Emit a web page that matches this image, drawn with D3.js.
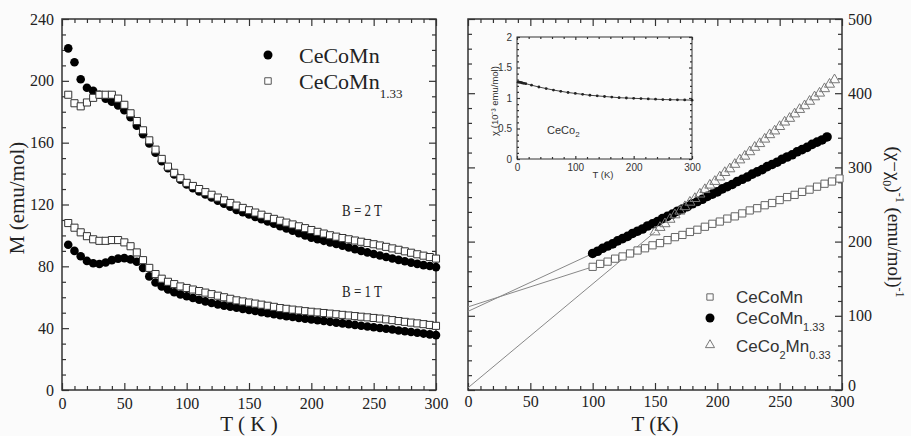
<!DOCTYPE html>
<html>
<head>
  <script src="https://d3js.org/d3.v7.min.js"></script>
  <style>
    body { margin: 0; background: #fbfbfb; }
    .tick line { stroke: #333; stroke-width: 1.2; }
    .serif text { font-family: "Liberation Serif", serif; fill: #222; }
    .sans text { font-family: "Liberation Sans", Arial, sans-serif; fill: #333; }
  </style>
</head>
<body>
<script>
  // ---- left panel: M(T) at B = 1 T and 2 T ----
  const tempLeft = [5,10,15,20,25,30,35,40,45,50,55,60,65,70,75,80,85,90,95,100,
    105,110,115,120,125,130,135,140,145,150,155,160,165,170,175,180,185,190,195,200,
    205,210,215,220,225,230,235,240,245,250,255,260,265,270,275,280,285,290,295,300]
  const m2T_CeCoMn = [221,212,201,195.5,193.5,191,188.5,186.5,184,181,176.5,171,165.5,159.5,153.5,148,143.5,139.5,136,133,
    130.5,128.5,126.5,124.5,122.5,120.5,118.5,116.5,115,113.5,112,110.5,109,107.5,106,104.5,103,101.5,100,98.5,
    97.5,96.5,95.5,94.5,93.3,92.2,91.1,90,89,88,87,86,85.1,84.2,83.3,82.4,81.6,80.8,80.2,79.5]
  const m2T_CeCoMn133 = [191,185.5,183.5,186,189,191,191,191,188.5,184.5,179,174,168,161.5,155.5,149.5,144.5,140.5,137,134,
    132,130,128,126.3,124.5,122.7,121,119.3,117.8,116.3,114.8,113.4,112,110.7,109.5,108.3,107.1,105.9,104.7,103.5,
    102.3,101.2,100.1,99.2,98.3,97.5,96.7,95.9,95.1,94.3,93.5,92.6,91.6,90.7,89.7,88.8,87.8,86.9,86,85]
  const m1T_CeCoMn = [94,90,86.5,83.5,82,81.5,82.5,84,85,85.3,84.5,83,79,73.5,69.5,67,65,63.2,61.8,60.6,
    59.5,58.4,57.3,56.3,55.4,54.6,53.9,53.2,52.5,51.8,51.1,50.4,49.7,49,48.4,47.8,47.2,46.6,46.1,45.6,
    45.1,44.6,44.1,43.6,43.1,42.6,42.1,41.6,41.1,40.6,40.1,39.6,39.1,38.5,38,37.5,37,36.5,36,35.5]
  const m1T_CeCoMn133 = [108,105,102,99.5,97.5,96.5,96.5,97,97,95.5,93,89,84,79,75,72,70,68.5,67,66,
    65,64,63,62,61,60,59,58,57.3,56.6,55.9,55.2,54.5,53.8,53,52.5,52,51.5,51,50.6,
    50.2,49.8,49.4,49,48.6,48.2,47.8,47.4,47,46.6,46.2,45.7,45.2,44.6,44.1,43.6,43.1,42.6,42.1,41.5]

  // ---- right panel: inverse susceptibility ----
  const tempSq = [100,106,112,118,124,130,136,142,148,154,160,166,172,178,184,190,196,
    202,208,214,220,226,232,238,244,250,256,262,268,274,280,286,292,298]
  const invCeCoMn = [166,170,173,177,180,184,188,191,195,198,202,206,209,213,216,220,224,
    227,231,234,238,242,245,249,252,256,260,263,267,270,274,278,281,285]
  const tempCirc = [100,104,108,112,116,120,124,128,132,136,140,144,148,152,156,160,164,168,172,176,180,184,188,192,
    196,200,204,208,212,216,220,224,228,232,236,240,244,248,252,256,260,264,268,272,276,280,284,288]
  const invCeCoMn133 = [184,187,191,194,197,201,204,207,211,214,217,221,224,227,231,234,237,241,244,247,251,254,257,261,
    264,267,271,274,277,281,284,287,291,294,297,301,304,307,311,314,317,321,324,327,331,334,337,341]
  const tempTri = [150,154,158,162,166,170,174,178,182,186,190,194,198,202,206,210,214,218,222,226,230,234,238,242,
    246,250,254,258,262,266,270,274,278,282,286,290,294]
  const invCeCo2Mn033 = [213,219,224,230,236,241,247,253,258,264,270,276,281,287,293,298,304,310,315,321,327,332,338,344,
    349,355,361,366,372,378,383,389,395,400,406,412,418]
  // intercepts of the thin fit lines at T = 0 (squares, circles, triangles)
  const fitIntercepts = [112, 106, 3]

  // ---- inset: CeCo2 susceptibility ----
  const tempInset = [2,4,6,8,10,12,15,25,37.5,50,62.5,75,87.5,100,112.5,125,137.5,150,162.5,175,
    187.5,200,212.5,225,237.5,250,262.5,275,287.5,300]
  const chiCeCo2 = [1.26,1.26,1.255,1.25,1.245,1.24,1.235,1.21,1.18,1.155,1.13,1.11,1.09,1.075,1.06,1.045,1.035,1.025,1.015,1.005,
    1.0,0.995,0.99,0.985,0.98,0.975,0.972,0.97,0.968,0.965]

  // ---- ticks ----
  const leftYTicks = [0,40,80,120,160,200,240]
  const xTicks = [0,50,100,150,200,250,300]
  const rightYTicks = [0,100,200,300,400,500]
  const insetYTicks = [0,0.5,1,1.5,2]
  const insetXTicks = [0,100,200,300]

  const svg = d3.select("body").append("svg")
    .attr("width", 911)
    .attr("height", 436)

  function frame(x, y, o) {
    const [x0, x1] = x.range()
    const [y0, y1] = y.range()
    const g = svg.append("g").attr("class", o.cls)
    const sides = [
      { axis: d3.axisBottom(x), t: `translate(0,${y0})`, major: o.xMajor, minor: o.xMinor, labels: true },
      { axis: d3.axisTop(x), t: `translate(0,${y1})`, major: o.xMajor, minor: o.xMinor, labels: false },
      { axis: d3.axisLeft(y), t: `translate(${x0},0)`, major: o.yMajor, minor: o.yMinor, labels: o.yLeft },
      { axis: d3.axisRight(y), t: `translate(${x1},0)`, major: o.yMajor, minor: o.yMinor, labels: !o.yLeft }
    ]
    sides.forEach(s => {
      const fmt = s.labels ? (d => d) : () => ""
      g.append("g").attr("transform", s.t)
        .call(s.axis.tickValues(s.major).tickSize(-o.majorLen).tickSizeOuter(0)
          .tickPadding(o.pad).tickFormat(fmt))
        .call(a => a.select(".domain").remove())
        .selectAll("text").attr("font-size", o.fontSize).attr("fill", null)
      const minorAxis = s.axis.tickValues(s.minor.filter(v => !s.major.includes(v)))
        .tickSize(-o.minorLen).tickFormat("")
      g.append("g").attr("transform", s.t)
        .call(minorAxis)
        .call(a => a.select(".domain").remove())
    })
    g.append("rect")
      .attr("x", x0).attr("y", y1)
      .attr("width", x1 - x0).attr("height", y0 - y1)
      .attr("fill", "none").attr("stroke", "#333").attr("stroke-width", o.frameWidth)
    return g
  }

  // ================= left panel =================
  const xL = d3.scaleLinear().domain([0, 300]).range([62, 436])
  const yL = d3.scaleLinear().domain([0, 240]).range([390, 19])

  frame(xL, yL, {
    cls: "serif", xMajor: xTicks, xMinor: d3.range(0, 301, 10),
    yMajor: leftYTicks, yMinor: d3.range(0, 241, 10), yLeft: true,
    majorLen: 7, minorLen: 4, pad: 8, fontSize: 16, frameWidth: 1.5
  })

  function circles(xs, ys, sx, sy, r) {
    svg.append("g").selectAll("circle")
      .data(xs.map((t, i) => [t, ys[i]]))
      .join("circle")
      .attr("cx", d => sx(d[0])).attr("cy", d => sy(d[1]))
      .attr("r", r).attr("fill", "#000")
  }
  function symbols(xs, ys, sx, sy, type, size, stroke, fill) {
    svg.append("g").selectAll("path")
      .data(xs.map((t, i) => [t, ys[i]]))
      .join("path")
      .attr("transform", d => `translate(${sx(d[0])},${sy(d[1])})`)
      .attr("d", d3.symbol(type, size)())
      .attr("fill", fill).attr("stroke", stroke).attr("stroke-width", 1)
  }

  circles(tempLeft, m2T_CeCoMn, xL, yL, 4.3)
  circles(tempLeft, m1T_CeCoMn, xL, yL, 4.3)
  symbols(tempLeft, m2T_CeCoMn133, xL, yL, d3.symbolSquare, 50, "#333", "#fff")
  symbols(tempLeft, m1T_CeCoMn133, xL, yL, d3.symbolSquare, 50, "#333", "#fff")

  const serif = "Liberation Serif, serif"
  svg.append("text").attr("x", 342).attr("y", 216).attr("font-family", serif)
    .attr("font-size", 16).attr("textLength", 40).attr("lengthAdjust", "spacingAndGlyphs")
    .attr("fill", "#222").text("B = 2 T")
  svg.append("text").attr("x", 342).attr("y", 297).attr("font-family", serif)
    .attr("font-size", 16).attr("textLength", 40).attr("lengthAdjust", "spacingAndGlyphs")
    .attr("fill", "#222").text("B = 1 T")

  // left legend
  svg.append("circle").attr("cx", 268).attr("cy", 55).attr("r", 4.5).attr("fill", "#000")
  svg.append("path").attr("transform", "translate(268,81)")
    .attr("d", d3.symbol(d3.symbolSquare, 42)()).attr("fill", "#fff").attr("stroke", "#555")
  svg.append("text").attr("x", 299).attr("y", 63).attr("font-family", serif)
    .attr("font-size", 22).attr("fill", "#222").text("CeCoMn")
  const lg2 = svg.append("text").attr("x", 299).attr("y", 89).attr("font-family", serif)
    .attr("font-size", 22).attr("fill", "#222")
  lg2.append("tspan").text("CeCoMn")
  lg2.append("tspan").attr("dy", 9).attr("font-size", 13).text("1.33")

  svg.append("text")
    .attr("transform", "translate(24,198) rotate(-90)")
    .attr("text-anchor", "middle").attr("font-family", serif)
    .attr("font-size", 21).attr("fill", "#222").text("M (emu/mol)")
  svg.append("text").attr("x", 249).attr("y", 431).attr("text-anchor", "middle")
    .attr("font-family", serif).attr("font-size", 21).attr("fill", "#222").text("T ( K )")

  // ================= right panel =================
  const xR = d3.scaleLinear().domain([0, 300]).range([468, 842])
  const yR = d3.scaleLinear().domain([0, 500]).range([390, 19])

  const gR = frame(xR, yR, {
    cls: "serif", xMajor: xTicks, xMinor: d3.range(0, 301, 10),
    yMajor: rightYTicks, yMinor: d3.range(0, 501, 20), yLeft: false,
    majorLen: 7, minorLen: 4, pad: 6, fontSize: 16, frameWidth: 1.5
  })
  // the right-axis "0" sits a little above the corner, clear of the x label "300"
  gR.selectAll(".tick text").filter(function (d) { return d === 0 && this.getAttribute("x") > 0 })
    .attr("dy", "0.05em")

  const firstPts = [[tempSq[0], invCeCoMn[0]], [tempCirc[0], invCeCoMn133[0]], [tempTri[0], invCeCo2Mn033[0]]]
  svg.append("g").selectAll("line")
    .data(fitIntercepts.map((b, i) => ({ b, end: firstPts[i] })))
    .join("line")
    .attr("x1", xR(0)).attr("y1", d => yR(d.b))
    .attr("x2", d => xR(d.end[0])).attr("y2", d => yR(d.end[1]))
    .attr("stroke", "#888").attr("stroke-width", 1)

  symbols(tempSq, invCeCoMn, xR, yR, d3.symbolSquare, 52, "#666", "#fff")
  circles(tempCirc, invCeCoMn133, xR, yR, 4.8)
  symbols(tempTri, invCeCo2Mn033, xR, yR, d3.symbolTriangle, 44, "#777", "none")

  // right legend
  const sans = "Liberation Sans, Arial, sans-serif"
  svg.append("path").attr("transform", "translate(710,297)")
    .attr("d", d3.symbol(d3.symbolSquare, 40)()).attr("fill", "none").attr("stroke", "#666")
  svg.append("circle").attr("cx", 710).attr("cy", 318).attr("r", 4.5).attr("fill", "#000")
  svg.append("path").attr("transform", "translate(710,345)")
    .attr("d", d3.symbol(d3.symbolTriangle, 36)()).attr("fill", "none").attr("stroke", "#777")
  svg.append("text").attr("x", 736).attr("y", 303).attr("font-family", sans)
    .attr("font-size", 17).attr("fill", "#333").text("CeCoMn")
  const r2 = svg.append("text").attr("x", 736).attr("y", 324).attr("font-family", sans)
    .attr("font-size", 17).attr("fill", "#333")
  r2.append("tspan").text("CeCoMn")
  r2.append("tspan").attr("dy", 7).attr("font-size", 11).text("1.33")
  const r3 = svg.append("text").attr("x", 736).attr("y", 352).attr("font-family", sans)
    .attr("font-size", 17).attr("fill", "#333")
  r3.append("tspan").text("CeCo")
  r3.append("tspan").attr("dy", 7).attr("font-size", 11).text("2")
  r3.append("tspan").attr("dy", -7).text("Mn")
  r3.append("tspan").attr("dy", 7).attr("font-size", 11).text("0.33")

  svg.append("text").attr("x", 655).attr("y", 431).attr("text-anchor", "middle")
    .attr("font-family", serif).attr("font-size", 21).attr("fill", "#222").text("T (K)")

  const yl = svg.append("text")
    .attr("transform", "translate(888,222) rotate(90)")
    .attr("text-anchor", "middle").attr("font-family", serif)
    .attr("font-size", 19).attr("fill", "#222")
  yl.append("tspan").text("(χ−χ")
  yl.append("tspan").attr("dy", 5).attr("font-size", 12).text("0")
  yl.append("tspan").attr("dy", -5).text(")")
  yl.append("tspan").attr("dy", -8).attr("font-size", 12).text("-1")
  yl.append("tspan").attr("dy", 8).text(" (emu/mol)")
  yl.append("tspan").attr("dy", -8).attr("font-size", 12).text("-1")

  // ================= inset =================
  const xI = d3.scaleLinear().domain([0, 300]).range([517, 692])
  const yI = d3.scaleLinear().domain([0, 2]).range([159, 37])

  frame(xI, yI, {
    cls: "sans", xMajor: insetXTicks, xMinor: d3.range(0, 301, 20),
    yMajor: insetYTicks, yMinor: d3.range(0, 2.01, 0.1).map(v => +v.toFixed(1)), yLeft: true,
    majorLen: 3, minorLen: 2, pad: 5, fontSize: 10, frameWidth: 1
  })

  svg.append("path")
    .datum(tempInset.map((t, i) => [t, chiCeCo2[i]]))
    .attr("d", d3.line().x(d => xI(d[0])).y(d => yI(d[1])))
    .attr("fill", "none").attr("stroke", "#444").attr("stroke-width", 1)
  svg.append("g").selectAll("circle")
    .data(tempInset.map((t, i) => [t, chiCeCo2[i]]))
    .join("circle")
    .attr("cx", d => xI(d[0])).attr("cy", d => yI(d[1]))
    .attr("r", 1.4).attr("fill", "#222")

  const ci = svg.append("text").attr("x", 547).attr("y", 134).attr("font-family", sans)
    .attr("font-size", 11).attr("fill", "#333")
  ci.append("tspan").text("CeCo")
  ci.append("tspan").attr("dy", 3).attr("font-size", 8).text("2")

  svg.append("text").attr("x", 603).attr("y", 178).attr("text-anchor", "middle")
    .attr("font-family", sans).attr("font-size", 9.5).attr("fill", "#333").text("T (K)")
  svg.append("text")
    .attr("transform", "translate(498,101) rotate(-90)")
    .attr("text-anchor", "middle").attr("font-family", sans)
    .attr("font-size", 9.5).attr("fill", "#333").text("χ (10⁻³ emu/mol)")
</script>
</body>
</html>
